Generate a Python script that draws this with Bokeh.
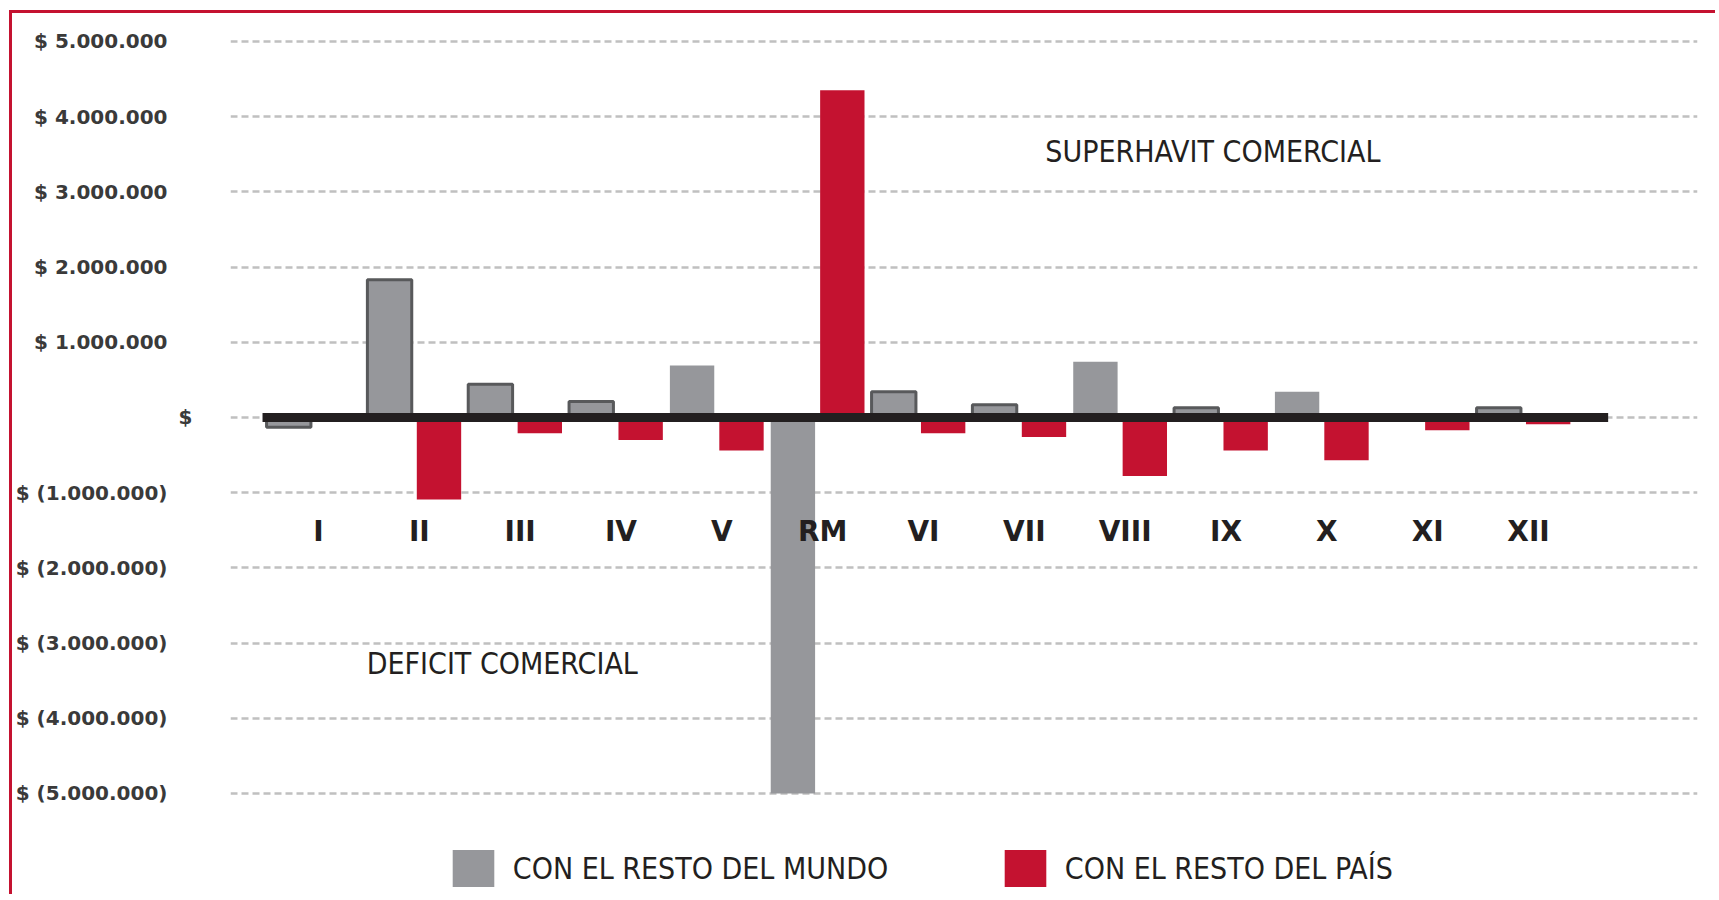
import numpy as np
from bokeh.plotting import figure
from bokeh.models import (ColumnDataSource, Range1d, FixedTicker, Label, Legend, LegendItem,
                          LinearAxis, Grid)
from bokeh.core.properties import value
from bokeh.embed import file_html
from bokeh.resources import INLINE

# ---------------- data ----------------
categories = ["I", "II", "III", "IV", "V", "RM", "VI", "VII", "VIII", "IX", "X", "XI", "XII"]
resto_mundo = [-130000, 1830000, 440000, 210000, 690000, -5000000, 340000,
               170000, 740000, 130000, 340000, 0, 130000]
resto_pais = [0, -1090000, -210000, -300000, -440000, 4350000, -210000,
              -260000, -780000, -440000, -570000, -170000, -90000]
mundo_outlined = [True, True, True, True, False, False, True, True, False, True, False, False, True]
series_names = ["CON EL RESTO DEL MUNDO", "CON EL RESTO DEL PAÍS"]
y_ticks = [5000000, 4000000, 3000000, 2000000, 1000000, 0,
           -1000000, -2000000, -3000000, -4000000, -5000000]
y_tick_labels = ["$ 5.000.000", "$ 4.000.000", "$ 3.000.000", "$ 2.000.000", "$ 1.000.000", "$",
                 "$ (1.000.000)", "$ (2.000.000)", "$ (3.000.000)", "$ (4.000.000)", "$ (5.000.000)"]
note_superavit = "SUPERHAVIT COMERCIAL"
note_deficit = "DEFICIT COMERCIAL"

# ---------------- style ----------------
GRAY = "#96979b"
OUTLINE = "#58595b"
RED = "#c41230"
BLACK = "#231f20"
GRID = "#c0c0c0"
TICK_COLOR = "#3a3a3a"
THIN_FONT = "'DejaVu Sans Condensed', 'Liberation Sans Narrow', 'Liberation Sans', sans-serif"

n = len(categories)
idx = np.arange(n)

p = figure(width=1706, height=884, output_backend="svg", toolbar_location=None,
           x_range=Range1d(-0.8226, 13.726), y_range=Range1d(-6.384e6, 5.371e6),
           x_axis_location=None, y_axis_location=None, min_border_left=216, min_border_right=21,
           min_border_top=0, min_border_bottom=0)
p.outline_line_color = None
p.background_fill_color = "white"
p.border_fill_color = "white"
p.styles = {"border-top": "3px solid #c41230", "border-left": "3px solid #c41230",
            "margin-top": "10px", "margin-left": "9px"}

p.xgrid.visible = False
p.ygrid.visible = False
grid = Grid(dimension=1, ticker=FixedTicker(ticks=y_ticks), grid_line_color=GRID,
            grid_line_dash="7 4", grid_line_width=2.5)
p.add_layout(grid, "center")

def style_axis(ax, standoff):
    ax.axis_line_color = None
    ax.major_tick_line_color = None
    ax.minor_tick_line_color = None
    ax.major_tick_out = 0
    ax.major_tick_in = 0
    ax.minor_tick_out = 0
    ax.major_label_standoff = standoff
    ax.major_label_text_font = "DejaVu Sans"
    ax.major_label_text_font_style = "bold"
    ax.major_label_text_font_size = "20px"
    ax.major_label_text_color = TICK_COLOR

zero_ticks = [t for t in y_ticks if t == 0]
other_ticks = [t for t in y_ticks if t != 0]
labels = dict(zip(y_ticks, y_tick_labels))

ax_zero = LinearAxis(ticker=FixedTicker(ticks=zero_ticks),
                     major_label_overrides={t: labels[t] for t in zero_ticks})
style_axis(ax_zero, 38)
p.add_layout(ax_zero, "left")

ax_main = LinearAxis(ticker=FixedTicker(ticks=other_ticks),
                     major_label_overrides={t: labels[t] for t in other_ticks})
style_axis(ax_main, 8)
p.add_layout(ax_main, "left")

src_m = ColumnDataSource(dict(x=idx - 0.245, top=resto_mundo,
                              la=[1.0 if o else 0.0 for o in mundo_outlined]))
src_p = ColumnDataSource(dict(x=idx + 0.245, top=resto_pais))

r_m = p.vbar(x="x", top="top", bottom=0, width=0.44, source=src_m,
             fill_color=GRAY, line_color=OUTLINE, line_width=3, line_alpha="la")
r_p = p.vbar(x="x", top="top", bottom=0, width=0.44, source=src_p,
             fill_color=RED, line_color=None)

p.segment(x0=[-0.505], y0=[0], x1=[n - 1 + 0.84], y1=[0], line_width=9, line_color=BLACK)

p.text(x=idx + 0.05, y=[-1.52e6] * n, text=categories, text_align="center",
       text_baseline="middle", text_font=value("DejaVu Sans"), text_font_style="bold",
       text_font_size="28px", text_color=BLACK)

p.add_layout(Label(x=8.92, y=3.536e6, text=note_superavit, text_align="center",
                   text_baseline="middle", text_font=THIN_FONT, text_font_size="30px",
                   text_color=BLACK))
p.add_layout(Label(x=1.873, y=-3.27e6, text=note_deficit, text_align="center",
                   text_baseline="middle", text_font=THIN_FONT, text_font_size="30px",
                   text_color=BLACK))

def make_legend(label, renderer, index, loc):
    return Legend(items=[LegendItem(label=label, renderers=[renderer], index=index)],
                  location=loc, orientation="horizontal", glyph_width=52, glyph_height=46,
                  label_standoff=14, padding=0, margin=0, border_line_alpha=0,
                  background_fill_alpha=0, label_text_font=THIN_FONT,
                  label_text_font_size="30px", label_text_color=BLACK, label_height=46)

p.add_layout(make_legend(series_names[0], r_m, 4, (216.8, 5.6)))
p.add_layout(make_legend(series_names[1], r_p, 1, (768.8, 5.6)))

open("out.html", "w").write(file_html(p, INLINE))
